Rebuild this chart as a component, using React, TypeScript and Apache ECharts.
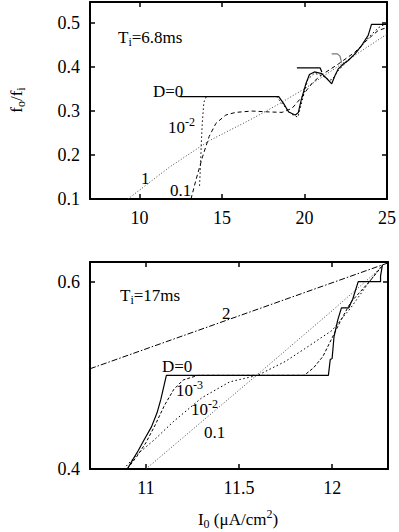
import React, { useEffect, useRef } from "react";
import * as echarts from "echarts";

// ---- data ----
const topXTicks = [10, 15, 20, 25];
const topYTicks = [0.1, 0.2, 0.3, 0.4, 0.5];
const botXTicks = [11, 11.5, 12];
const botYTicks = [0.4, 0.6];

// upper panel, Ti = 6.8 ms
const topD0 = [[12.42,0.333],[18.44,0.333],[18.74,0.317],[19.04,0.298],[19.44,0.291],[19.62,0.296],[19.8,0.325],[20.1,0.364],[20.3,0.383],[20.6,0.389],[21.05,0.385],[21.45,0.37],[21.65,0.362],[21.85,0.381],[22.05,0.396],[22.35,0.407],[22.65,0.415],[23.06,0.43],[23.46,0.449],[23.86,0.472],[24.06,0.497],[25,0.497]];
const topD0Step = [[19.54,0.398],[20.95,0.398],[21.05,0.389]];
const topGray = [[21.65,0.43],[22.0,0.43],[22.15,0.425],[22.25,0.41]];
const topDm2 = [[13.64,0.13],[13.7,0.18],[13.75,0.23],[13.8,0.27],[13.9,0.32],[14.05,0.333],[18.3,0.333],[18.8,0.31],[19.2,0.293],[19.6,0.286],[19.9,0.33],[20.2,0.372],[20.6,0.386],[21.1,0.38],[21.5,0.37],[21.7,0.372],[22.0,0.39],[22.5,0.41],[23.0,0.428],[23.5,0.45],[24.0,0.472],[24.5,0.49],[25,0.5]];
const topD01 = [[13.12,0.1],[13.42,0.143],[13.82,0.196],[14.22,0.242],[14.63,0.272],[15.23,0.291],[15.83,0.297],[16.83,0.3],[17.84,0.298],[18.64,0.297],[19.24,0.306],[19.84,0.332],[20.14,0.348],[20.5,0.365],[21.03,0.382],[22.05,0.407],[23.06,0.434],[23.86,0.464],[24.46,0.483],[25,0.49]];
const topD1 = [[9.3,0.1],[11.8,0.172],[14.2,0.232],[16.8,0.282],[18.4,0.315],[20.1,0.353],[22.05,0.402],[25,0.475]];

// lower panel, Ti = 17 ms
const botD2 = [[10.7,0.507],[12.3,0.62]];
const botD0 = [[10.9,0.4],[10.93,0.41],[10.96,0.42],[10.99,0.431],[11.03,0.445],[11.06,0.46],[11.08,0.474],[11.11,0.5],[11.98,0.5],[11.99,0.517],[12.0,0.518],[12.01,0.541],[12.03,0.559],[12.05,0.572],[12.09,0.572],[12.1,0.577],[12.11,0.581],[12.14,0.6],[12.26,0.6],[12.26,0.606],[12.27,0.618]];
const botDm3 = [[10.9,0.4],[10.95,0.413],[11.0,0.428],[11.05,0.447],[11.1,0.468],[11.15,0.485],[11.2,0.495],[11.28,0.5],[11.85,0.5],[11.9,0.508],[11.95,0.52],[12.0,0.54],[12.05,0.56],[12.1,0.578],[12.2,0.6],[12.27,0.617]];
const botDm2 = [[10.88,0.4],[10.95,0.415],[11.05,0.432],[11.15,0.451],[11.3,0.476],[11.45,0.493],[11.6,0.5],[11.75,0.515],[11.85,0.528],[12.0,0.548],[12.1,0.572],[12.2,0.6],[12.27,0.618]];
const botD01 = [[11.0,0.4],[11.6,0.501],[12.0,0.569],[12.27,0.616]];

const FF = "Times New Roman, Liberation Serif, serif";
const FS = 17;
const TFS = 18;

function axis(kind: "x" | "y", grid: number, pos: string, min: number, max: number, ticks: number[], labels: boolean) {
  return {
    type: "value",
    gridIndex: grid,
    position: pos,
    min,
    max,
    axisLine: { show: true, onZero: false, lineStyle: { color: "#000", width: 2 } },
    axisTick: { show: true, inside: true, length: 5, customValues: ticks, lineStyle: { color: "#000", width: 1.5 } },
    axisLabel: {
      show: labels,
      customValues: ticks,
      color: "#000",
      fontFamily: FF,
      fontSize: TFS,
      margin: kind === "x" ? 10 : 10,
      showMinLabel: true,
      showMaxLabel: true,
    },
    splitLine: { show: false },
  };
}

function line(data: number[][], xi: number, yi: number, type: any, color = "#000", width = 1) {
  return {
    type: "line",
    xAxisIndex: xi,
    yAxisIndex: yi,
    data,
    showSymbol: false,
    symbol: "none",
    silent: true,
    lineStyle: { color, width, type },
  };
}

const RICH = {
  m: { fontFamily: FF, fontSize: FS, lineHeight: 22, verticalAlign: "middle", fill: "#000" },
  s: { fontFamily: FF, fontSize: 12, lineHeight: 12, verticalAlign: "bottom", fill: "#000" },
  p: { fontFamily: FF, fontSize: 12, lineHeight: 12, verticalAlign: "top", fill: "#000" },
};

function txt(x: number, y: number, text: string, align = "left", rotation = 0) {
  return {
    type: "text",
    x,
    y,
    rotation,
    style: {
      text,
      fill: "#000",
      fontFamily: FF,
      fontSize: FS,
      align,
      verticalAlign: "middle",
      rich: RICH,
    },
  };
}

export default function App() {
  const ref = useRef<HTMLDivElement>(null);
  useEffect(() => {
    if (!ref.current) return;
    const chart = echarts.init(ref.current, undefined, { renderer: "svg" });
    chart.setOption({
      animation: false,
      backgroundColor: "#fff",
      textStyle: { fontFamily: FF },
      grid: [
        { left: 90, top: 2, width: 298, height: 197 },
        { left: 90, top: 262, width: 298, height: 207 },
      ],
      xAxis: [
        axis("x", 0, "bottom", 7, 25, topXTicks, true),
        axis("x", 0, "top", 7, 25, topXTicks, false),
        axis("x", 1, "bottom", 10.7, 12.3, botXTicks, true),
        axis("x", 1, "top", 10.7, 12.3, botXTicks, false),
      ],
      yAxis: [
        axis("y", 0, "left", 0.1, 0.548, topYTicks, true),
        axis("y", 0, "right", 0.1, 0.548, topYTicks, false),
        axis("y", 1, "left", 0.4, 0.621, botYTicks, true),
        axis("y", 1, "right", 0.4, 0.621, botYTicks, false),
      ],
      series: [
        line(topD1, 0, 0, [1, 2], "#444", 1),
        line(topD01, 0, 0, [4, 3]),
        line(topDm2, 0, 0, [1.5, 2.5]),
        line(topD0, 0, 0, "solid", "#000", 1.2),
        line(topD0Step, 0, 0, "solid", "#000", 1.2),
        line(topGray, 0, 0, "solid", "#777", 1.2),
        line(botD2, 2, 2, [6, 2, 1.5, 2]),
        line(botD01, 2, 2, [1, 2], "#444", 1),
        line(botDm2, 2, 2, [1.5, 2.5]),
        line(botDm3, 2, 2, [3, 2]),
        line(botD0, 2, 2, "solid", "#000", 1.2),
      ],
      graphic: [
        txt(118, 37, "{m|T}{s|i}{m|=6.8ms}"),
        txt(153, 91, "{m|D=0}"),
        txt(168, 127, "{m|10}{p|-2}"),
        txt(141, 178, "{m|1}"),
        txt(170, 190, "{m|0.1}"),
        txt(120, 295, "{m|T}{s|i}{m|=17ms}"),
        txt(222, 313, "{m|2}"),
        txt(162, 366, "{m|D=0}"),
        txt(176, 390, "{m|10}{p|-3}"),
        txt(191, 409, "{m|10}{p|-2}"),
        txt(204, 432, "{m|0.1}"),
        txt(238, 519, "{m|I}{s|0}{m| (μA/cm}{p|2}{m|)}", "center"),
        txt(16, 100, "{m|f}{s|o}{m|/f}{s|i}", "center", Math.PI / 2),
      ],
    });
    return () => chart.dispose();
  }, []);
  return (
    <div
      ref={ref}
      style={{ position: "fixed", left: 0, top: 0, width: 399, height: 532, background: "#fff" }}
    />
  );
}
